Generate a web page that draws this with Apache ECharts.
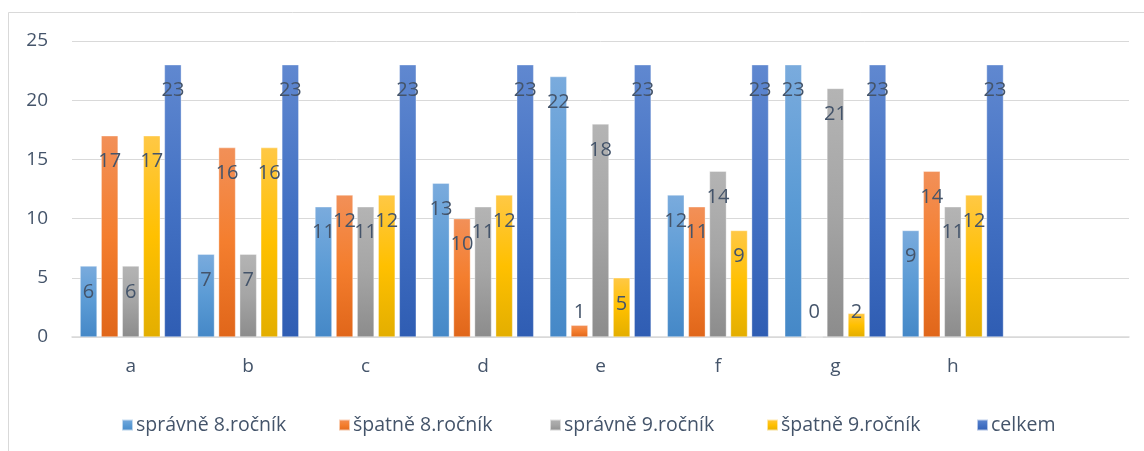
<!DOCTYPE html>
<html>
<head>
<meta charset="utf-8">
<script src="https://cdn.jsdelivr.net/npm/echarts@6/dist/echarts.min.js"></script>
<style>html,body{margin:0;padding:0;background:#fff}#c{width:1144px;height:451px}</style>
</head>
<body>
<div id="c"></div>
<script>
const categories = ['a','b','c','d','e','f','g','h',''];
const seriesNames = ['správně 8.ročník','špatně 8.ročník','správně 9.ročník','špatně 9.ročník','celkem'];
const spravne8 = [6,7,11,13,22,12,23,9];
const spatne8 = [17,16,12,10,1,11,0,14];
const spravne9 = [6,7,11,11,18,14,21,11];
const spatne9 = [17,16,12,12,5,9,2,12];
const celkem = [23,23,23,23,23,23,23,23];
const yTicks = [0,5,10,15,20,25];

const values = [spravne8, spatne8, spravne9, spatne9, celkem];
const gradients = [
  ['#7aabdd','#5b9bd5','#4588c7'],
  ['#f29058','#f47e2e','#e0661a'],
  ['#b4b4b4','#a5a5a5','#8c8c8c'],
  ['#ffc845','#ffc000','#e3ae00'],
  ['#6088d0','#4472c4','#2f5db3']
];
const legendX = [116, 333, 544, 761, 971];
const FONT = '"Open Sans", "Noto Sans", sans-serif';
const TXT = '#44546a';

function grad(c){
  return new echarts.graphic.LinearGradient(0,0,0,1,[
    {offset:0,color:c[0]},{offset:0.5,color:c[1]},{offset:1,color:c[2]}
  ]);
}

const series = values.map((arr, i) => ({
  name: seriesNames[i],
  type: 'bar',
  barWidth: 17,
  barGap: '24%',
  itemStyle: { color: grad(gradients[i]), borderColor: 'rgba(255,255,255,0.6)', borderWidth: 0.6 },
  label: {
    show: true, position: 'insideTop', distance: 16,
    color: TXT, fontFamily: FONT, fontSize: 20
  },
  data: arr.map(v => v < 3
    ? { value: v, label: { position: 'insideBottom', distance: 15 } }
    : v)
}));

const legends = seriesNames.map((n, i) => ({
  data: [{ name: n, icon: 'rect' }],
  left: legendX[i], top: 410,
  itemWidth: 11, itemHeight: 11, itemGap: 0,
  textStyle: { color: TXT, fontFamily: FONT, fontSize: 19.5, padding: [0,0,0,-2] },
  selectedMode: false
}));

const chart = echarts.init(document.getElementById('c'));
chart.setOption({
  animation: false,
  backgroundColor: '#fff',
  graphic: [{
    type: 'rect', silent: true,
    shape: { x: 8.5, y: 12.5, width: 1200, height: 500 },
    style: { fill: 'none', stroke: '#d9d9d9', lineWidth: 1 }
  }],
  legend: legends,
  grid: { left: 72, right: 15, top: 41, height: 296, containLabel: false },
  xAxis: {
    type: 'category', data: categories,
    axisLine: { lineStyle: { color: '#d9d9d9', width: 1.5 } },
    axisTick: { show: false },
    axisLabel: { color: TXT, fontFamily: FONT, fontSize: 19, margin: 20 }
  },
  yAxis: {
    type: 'value', min: yTicks[0], max: yTicks[yTicks.length-1], interval: 5,
    axisLine: { show: false }, axisTick: { show: false },
    splitLine: { lineStyle: { color: '#d9d9d9', width: 1 } },
    axisLabel: { color: TXT, fontFamily: FONT, fontSize: 19, margin: 24 }
  },
  series
});
</script>
</body>
</html>
